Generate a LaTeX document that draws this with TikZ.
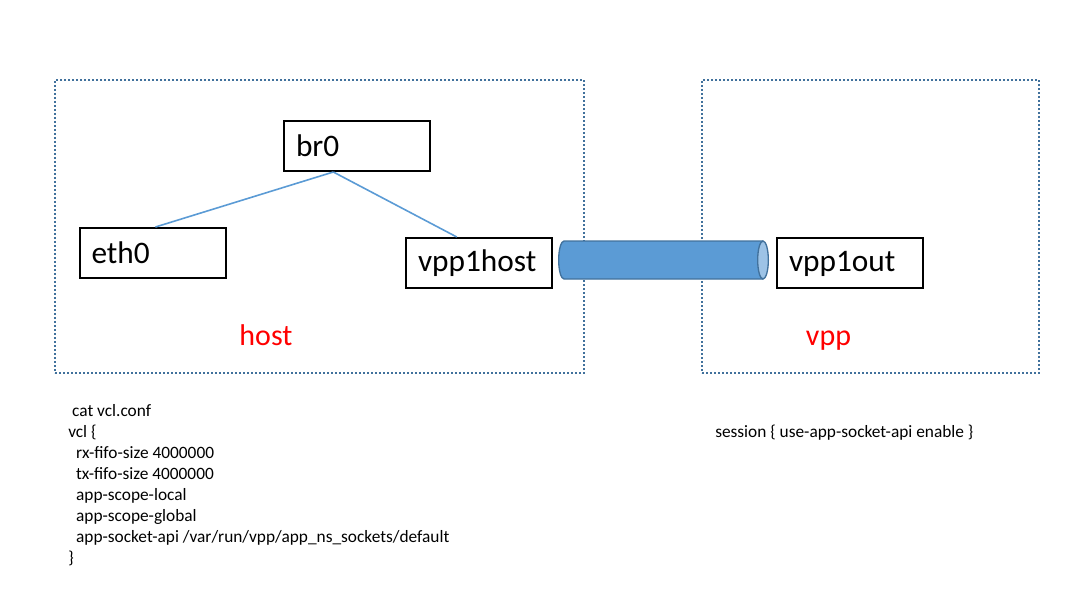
\documentclass[tikz,border=0pt]{standalone}
\usepackage{fontspec}
\setmainfont{Carlito}
\usetikzlibrary{calc}
\definecolor{lineblue}{HTML}{5B9BD5}
\definecolor{dotblue}{HTML}{41719C}
\definecolor{cylfill}{HTML}{5B9BD5}
\definecolor{cylend}{HTML}{9DC3E6}
\begin{document}
\begin{tikzpicture}[x=0.75pt,y=-0.75pt,
  ifbox/.style={draw=black,line width=1.5pt,fill=white,minimum height=37.5pt,
    text width=91.5pt,inner xsep=9pt,align=left,text height=16.3pt,text depth=0.5pt,
    font=\fontsize{23.5pt}{27pt}\selectfont},
  region/.style={draw=dotblue,line width=1.2pt,dash pattern=on 1.2pt off 1.8pt,
    inner sep=0pt},
  link/.style={draw=lineblue,line width=1.2pt},
  tag/.style={text=red,anchor=base,font=\fontsize{22.5pt}{26pt}\selectfont},
  code/.style={anchor=base west,inner sep=0pt,font=\fontsize{13pt}{15.75pt}\selectfont}]
\useasboundingbox (0,0) rectangle (1073,614);
% regions
\node[region,minimum width=396.75pt,minimum height=219.75pt] (hostreg) at (319.5,226.5) {};
\node[region,minimum width=252.75pt,minimum height=219.75pt] (vppreg) at (870.5,226.5) {};
% boxes
\node[ifbox] (br0) at (357,146) {br0};
\node[ifbox] (eth0) at (152.5,253) {eth0};
\node[ifbox,text height=12.5pt] (vpp1host) at (479,263) {vpp1host};
\node[ifbox,text height=12.5pt] (vpp1out) at (850,263) {vpp1out};
% links
\draw[link] ($(br0.south west)!0.34!(br0.south east)$) -- ($(eth0.north west)!0.52!(eth0.north east)$);
\draw[link] ($(br0.south west)!0.34!(br0.south east)$) -- ($(vpp1host.north west)!0.35!(vpp1host.north east)$);
% cylinder
\draw[draw=dotblue,fill=cylfill,line width=1pt] (763,241) -- (564,241)
  arc[start angle=90,end angle=270,x radius=4pt,y radius=14.25pt] -- (763,279);
\draw[draw=dotblue,fill=cylend,line width=1pt] (763,260) ellipse[x radius=4pt,y radius=14.25pt];
% labels
\node[tag] (hostlbl) at (266,345) {host};
\node[tag] (vpplbl) at (828.5,345) {vpp};
% code
\node[code] (c1) at (68,416) {\ cat vcl.conf};
\node[code] (c2) at (68,437) {vcl \{};
\node[code] (c3) at (68,458) {\ \ rx-fifo-size 4000000};
\node[code] (c4) at (68,479) {\ \ tx-fifo-size 4000000};
\node[code] (c5) at (68,500) {\ \ app-scope-local};
\node[code] (c6) at (68,521) {\ \ app-scope-global};
\node[code] (c7) at (68,542) {\ \ app-socket-api /var/run/vpp/app\_ns\_sockets/default};
\node[code] (c8) at (68,563) {\}};
\node[code] (sess) at (715,437) {session \{ use-app-socket-api enable \}};
\end{tikzpicture}
\end{document}
